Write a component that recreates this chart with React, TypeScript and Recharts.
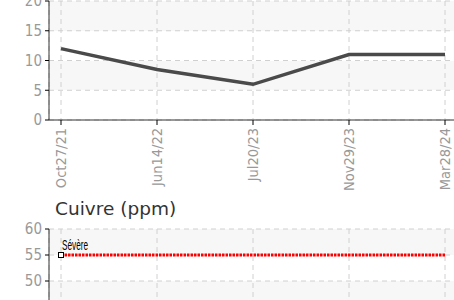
import React from "react";
import {
  LineChart,
  Line,
  XAxis,
  YAxis,
  CartesianGrid,
} from "recharts";

// sample dates (x categories), shared by both panels
const dates = ["Oct27/21", "Jun14/22", "Jul20/23", "Nov29/23", "Mar28/24"];
// upper panel (title cropped off in the reference)
const topValues = [12, 8.5, 6, 11, 11];
const topTicks = [0, 5, 10, 15, 20];
// lower panel
const cuivreTitle = "Cuivre (ppm)";
const cuivreTicks = [0, 5, 10, 15, 20, 25, 30, 35, 40, 45, 50, 55, 60];
const cuivreLimit = [55, 55, 55, 55, 55];
const cuivreLimitLabel = "Sévère";

const topData = dates.map((d, i) => ({ date: d, value: topValues[i] }));
const cuivreData = dates.map((d, i) => ({ date: d, limit: cuivreLimit[i] }));

const tickFont = "'DejaVu Sans Condensed', 'Liberation Sans Narrow', sans-serif";
const gridFill = ["#f7f7f7", "#ffffff"];

function DateTick({ x, y, payload }: any) {
  return (
    <g transform={`translate(${x},${y})`}>
      <text
        transform="rotate(-90)"
        textAnchor="end"
        dy="0.35em"
        fill="#999"
        fontSize={14.5}
        fontFamily={tickFont}
      >
        {payload.value}
      </text>
    </g>
  );
}

// only the first point of the limit line gets the square + label
function LimitMarker({ cx, cy, index }: any) {
  if (index !== 0) return <g key={`lm-${index}`} />;
  return (
    <g key="lm-0">
      <rect x={cx - 2.5} y={cy - 2.5} width={5} height={5} fill="#fff" stroke="#000" strokeWidth={1} />
      <text
        x={cx + 1}
        y={cy - 5}
        fill="#000"
        fontSize={15}
        fontFamily="'Liberation Sans Narrow', sans-serif"
        textLength={26}
        lengthAdjust="spacingAndGlyphs"
      >
        {cuivreLimitLabel}
      </text>
    </g>
  );
}

const xPad = { left: 12, right: 12 };

export default function App() {
  return (
    <div
      style={{
        position: "absolute",
        left: 0,
        top: 0,
        width: 454,
        height: 300,
        overflow: "hidden",
        background: "#fff",
      }}
    >
      <div style={{ position: "absolute", left: 0, top: -20 }}>
        <LineChart width={470} height={230} data={topData} margin={{ top: 21, right: 13, left: 0, bottom: 30 }}>
          <CartesianGrid
            stroke="#d0d0d0"
            strokeDasharray="5 4"
            horizontalFill={gridFill}
            fillOpacity={1}
          />
          <XAxis
            dataKey="date"
            padding={xPad}
            height={60}
            interval={0}
            stroke="#333"
            tickSize={5}
            tickMargin={3}
            tickLine={{ stroke: "#000" }}
            tick={<DateTick />}
          />
          <YAxis
            domain={[0, 20]}
            ticks={topTicks}
            width={49}
            stroke="#333"
            tickSize={4}
            tickMargin={3}
            tickLine={{ stroke: "#000" }}
            tick={{ fill: "#999", fontSize: 15, fontFamily: tickFont }}
          />
          <Line
            type="linear"
            dataKey="value"
            stroke="#4a4a4a"
            strokeWidth={3.5}
            dot={false}
            isAnimationActive={false}
          />
        </LineChart>
      </div>

      <div
        style={{
          position: "absolute",
          left: 55,
          top: 198,
          fontFamily: "'DejaVu Sans', sans-serif",
          fontSize: 18.5,
          color: "#333",
          lineHeight: "22px",
        }}
      >
        {cuivreTitle}
      </div>

      <div style={{ position: "absolute", left: 0, top: 190 }}>
        <LineChart width={470} height={411} data={cuivreData} margin={{ top: 39, right: 13, left: 0, bottom: 0 }}>
          <CartesianGrid
            stroke="#d0d0d0"
            strokeDasharray="5 4"
            horizontalFill={gridFill}
            fillOpacity={1}
          />
          <XAxis
            dataKey="date"
            padding={xPad}
            height={60}
            interval={0}
            stroke="#333"
            tickSize={5}
            tickMargin={3}
            tick={<DateTick />}
          />
          <YAxis
            domain={[0, 60]}
            ticks={cuivreTicks}
            width={49}
            stroke="#333"
            tickSize={4}
            tickMargin={3}
            tickLine={{ stroke: "#000" }}
            tick={{ fill: "#999", fontSize: 15, fontFamily: tickFont }}
          />
          <Line
            type="linear"
            dataKey="limit"
            stroke="#ff0000"
            strokeWidth={3}
            strokeDasharray="2.5 1"
            dot={<LimitMarker />}
            activeDot={false}
            isAnimationActive={false}
          />
        </LineChart>
      </div>
    </div>
  );
}
